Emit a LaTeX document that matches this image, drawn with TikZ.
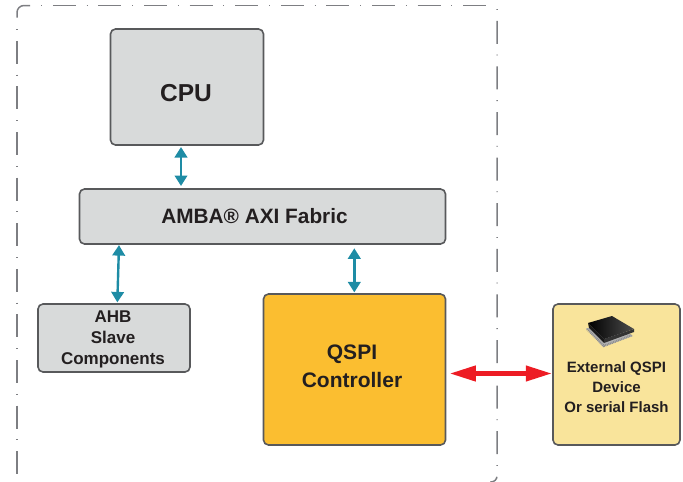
\documentclass[tikz,border=0pt]{standalone}
\usepackage{fontspec}
\setmainfont{Liberation Sans}
\definecolor{boxgray}{RGB}{216,218,218}
\definecolor{boxedge}{RGB}{88,89,91}
\definecolor{framegray}{RGB}{125,126,130}
\definecolor{qspiorange}{RGB}{251,190,48}
\definecolor{flashyellow}{RGB}{249,228,155}
\definecolor{linkteal}{RGB}{30,140,165}
\definecolor{linkred}{RGB}{237,28,36}
\definecolor{txtdark}{RGB}{35,31,32}
\usetikzlibrary{arrows.meta}
\tikzset{
  block/.style={draw=boxedge, line width=1.6pt, rounded corners=5pt, fill=boxgray, inner sep=0pt},
  blocktxt/.style={text=txtdark, align=center, inner sep=0pt, font=\bfseries},
  framedash/.style={draw=framegray, line width=1.5pt, dash pattern=on 0.8pt off 11pt on 23pt off 10.8pt},
  buslink/.style={draw=linkteal, line width=2.4pt, {Triangle[width=12.5pt,length=10.5pt]}-{Triangle[width=12.5pt,length=10.5pt]}},
  flashlink/.style={draw=linkred, line width=4.2pt, {Triangle[width=15pt,length=26pt]}-{Triangle[width=15pt,length=26pt]}}
}
\begin{document}
\begin{tikzpicture}[x=1pt,y=-1pt]
  \useasboundingbox (0,0) rectangle (683,482);
  %soc frame
  \draw[framegray, line width=1.5pt, rounded corners=7pt] (17,17.5) -- (17,5.5) -- (30,5.5);
  \draw[framedash] (41,5.5) -- (486.5,5.5);
  \draw[framedash] (17,29) -- (17,482);
  \draw[framedash, rounded corners=6pt] (497,9) -- (497,482) -- (490,482);

  \node[block, minimum width=153pt, minimum height=116pt] (cpu) at (187,87) {};
  \node[blocktxt, font=\bfseries\fontsize{24.5}{28}\selectfont] (cputxt) at (186,93) {CPU};
  \node[block, minimum width=366pt, minimum height=55pt] (fabric) at (262.5,216.5) {};
  \node[blocktxt, font=\bfseries\fontsize{20.8}{24}\selectfont] (fabrictxt) at (254.5,216) {AMBA® AXI Fabric};
  \node[block, minimum width=152pt, minimum height=68pt] (ahb) at (114,338) {};
  \node[blocktxt, font=\bfseries\fontsize{17}{21}\selectfont] (ahbtxt) at (113,339) {AHB\\Slave\\Components};
  \node[block, fill=qspiorange, minimum width=182pt, minimum height=151pt] (qspi) at (354.5,369.5) {};
  \node[blocktxt, font=\bfseries\fontsize{21}{28}\selectfont] (qspitxt) at (352,366) {QSPI\\Controller};
  \node[block, fill=flashyellow, minimum width=127pt, minimum height=141pt] (flash) at (616.5,374.5) {};
  \node[blocktxt, font=\bfseries\fontsize{15}{20}\selectfont] (flashtxt) at (616.5,387) {External QSPI\\Device\\Or serial Flash};

  %chip
  \fill[black!30] (586,328) -- (603,347) -- (633,336) -- (620,328) -- cycle;
  \draw[black!45, line width=2.2pt, dash pattern=on 0.8pt off 0.9pt] (587,329) -- (604,346) -- (632,335);
  \fill[black!90] (588,323) -- (604,339) -- (604,343) -- (589,328) -- cycle;
  \fill[black!80] (604,339) -- (634,329) -- (634,332) -- (604,343) -- cycle;
  \shade[left color=black, right color=black!70] (588,323) -- (612,316) -- (634,329) -- (604,339) -- cycle;

  \coordinate (cpulink) at (181,167);
  \draw[buslink, shorten <=1.2pt, shorten >=2.2pt] (cpu.south -| cpulink) -- (fabric.north -| cpulink);
  \coordinate (ahbtop) at (119,274);
  \coordinate (ahbbot) at (117.3,274);
  \draw[buslink, shorten <=0.3pt, shorten >=0.8pt] (fabric.south -| ahbtop) -- (ahb.north -| ahbbot);
  \coordinate (qspilink) at (354.3,270);
  \draw[buslink, shorten <=3.5pt, shorten >=0.8pt] (fabric.south -| qspilink) -- (qspi.north -| qspilink);
  \coordinate (flashlink) at (500,373.5);
  \draw[flashlink, shorten <=3.5pt, shorten >=0.4pt] (qspi.east |- flashlink) -- (flash.west |- flashlink);
\end{tikzpicture}
\end{document}
